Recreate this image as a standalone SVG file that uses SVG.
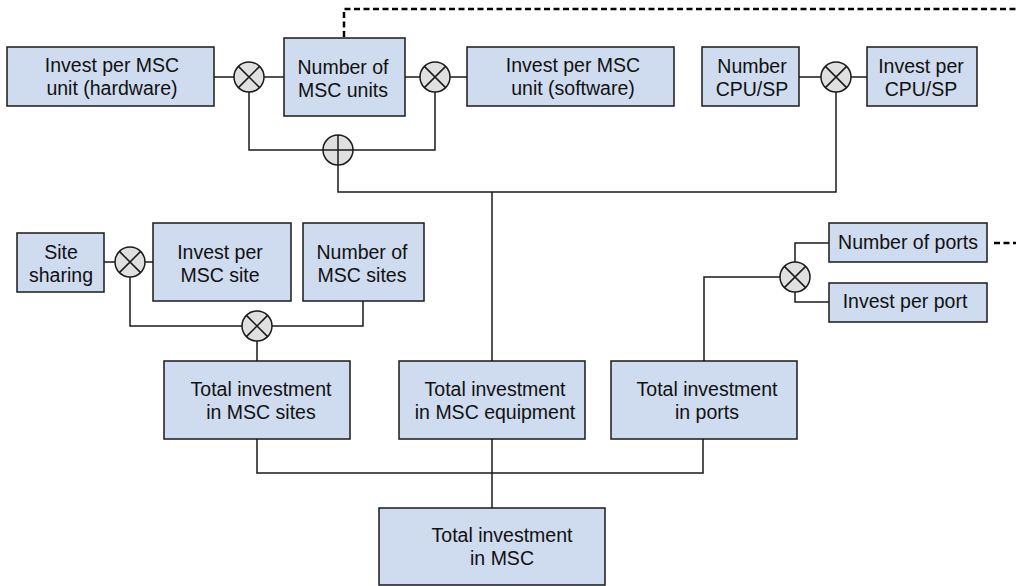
<svg xmlns="http://www.w3.org/2000/svg" width="1016" height="586" viewBox="0 0 1016 586">
  <defs>
    <style>
      .box { fill: #cfdbee; stroke: #1a1a1a; stroke-width: 1.5; }
      .op { fill: #e0e0e0; stroke: #1a1a1a; stroke-width: 1.5; }
      .sym { stroke: #1a1a1a; stroke-width: 1.5; fill: none; }
      .wire { fill: none; stroke: #1a1a1a; stroke-width: 1.5; }
      .dash { fill: none; stroke: #000; stroke-width: 2.5; stroke-dasharray: 6 3.5; }
      text { font-family: "Liberation Sans", Arial, sans-serif; font-size: 19.5px; fill: #111; text-anchor: middle; }
    </style>
    <!-- multiply junction: circle with X, centred at origin -->
    <g id="mul">
      <circle class="op" r="15"/>
      <path class="sym" d="M-10.6,-10.6 L10.6,10.6 M-10.6,10.6 L10.6,-10.6"/>
    </g>
    <!-- sum junction: circle with cross -->
    <g id="add">
      <circle class="op" r="15"/>
      <path class="sym" d="M-15,0 L15,0 M0,-15 L0,15"/>
    </g>
  </defs>
  <rect width="1016" height="586" fill="#fff"/>

  <!-- connectors -->
  <g id="connectors">
    <path class="wire" d="M214,77 H234 M264,77 H284 M405,77 H420 M450,77 H467"/>
    <path class="wire" d="M249,92 V150 H323 M435,92 V150 H353"/>
    <path class="wire" d="M338,165 V192 H836 V92"/>
    <path class="wire" d="M799,77 H821 M851,77 H867"/>
    <path class="wire" d="M492,192 V361"/>
    <path class="wire" d="M104,262 H115 M145,262 H153"/>
    <path class="wire" d="M130,277 V326 H242 M272,326 H363 V301 M257,341 V361"/>
    <path class="wire" d="M795,262 V243 H829 M795,292 V302 H829 M780,277 H704 V361"/>
    <path class="wire" d="M257,439 V473 H703 V439 M492,439 V508"/>
    <path class="dash" d="M344,37 V9 H1016"/>
    <path class="dash" d="M994,243 H1016"/>
  </g>

  <!-- operators -->
  <g id="op-hw"><use href="#mul" x="249" y="77"/></g>
  <g id="op-sw"><use href="#mul" x="435" y="77"/></g>
  <g id="op-units-sum"><use href="#add" x="338" y="150"/></g>
  <g id="op-cpu"><use href="#mul" x="836" y="77"/></g>
  <g id="op-share"><use href="#mul" x="130" y="262"/></g>
  <g id="op-sites"><use href="#mul" x="257" y="326"/></g>
  <g id="op-ports"><use href="#mul" x="795" y="277"/></g>

  <!-- nodes -->
  <g id="invest-hw">
    <rect class="box" x="7" y="47" width="207" height="59"/>
    <text x="112" y="72">Invest per MSC</text>
    <text x="112" y="95">unit (hardware)</text>
  </g>
  <g id="num-units">
    <rect class="box" x="284" y="38" width="121" height="78"/>
    <text x="343" y="74">Number of</text>
    <text x="343" y="97">MSC units</text>
  </g>
  <g id="invest-sw">
    <rect class="box" x="467" y="47" width="207" height="59"/>
    <text x="573" y="72">Invest per MSC</text>
    <text x="573" y="95">unit (software)</text>
  </g>
  <g id="num-cpu">
    <rect class="box" x="702" y="47" width="97" height="59"/>
    <text x="752" y="73">Number</text>
    <text x="752" y="96">CPU/SP</text>
  </g>
  <g id="invest-cpu">
    <rect class="box" x="867" y="47" width="110" height="59"/>
    <text x="921" y="73">Invest per</text>
    <text x="921" y="96">CPU/SP</text>
  </g>
  <g id="site-sharing">
    <rect class="box" x="17" y="233" width="87" height="59"/>
    <text x="61" y="259">Site</text>
    <text x="61" y="282">sharing</text>
  </g>
  <g id="invest-site">
    <rect class="box" x="153" y="223" width="138" height="78"/>
    <text x="220" y="259">Invest per</text>
    <text x="220" y="282">MSC site</text>
  </g>
  <g id="num-sites">
    <rect class="box" x="303" y="223" width="121" height="78"/>
    <text x="362" y="259">Number of</text>
    <text x="362" y="282">MSC sites</text>
  </g>
  <g id="num-ports">
    <rect class="box" x="829" y="223" width="158" height="39"/>
    <text x="908" y="249">Number of ports</text>
  </g>
  <g id="invest-port">
    <rect class="box" x="829" y="283" width="158" height="39"/>
    <text x="905" y="308">Invest per port</text>
  </g>
  <g id="total-sites">
    <rect class="box" x="164" y="361" width="186" height="78"/>
    <text x="261" y="396">Total investment</text>
    <text x="261" y="419">in MSC sites</text>
  </g>
  <g id="total-equipment">
    <rect class="box" x="399" y="361" width="186" height="78"/>
    <text x="495" y="396">Total investment</text>
    <text x="495" y="419">in MSC equipment</text>
  </g>
  <g id="total-ports">
    <rect class="box" x="611" y="361" width="186" height="78"/>
    <text x="707" y="396">Total investment</text>
    <text x="707" y="419">in ports</text>
  </g>
  <g id="total-msc">
    <rect class="box" x="379" y="508" width="226" height="77"/>
    <text x="502" y="542">Total investment</text>
    <text x="502" y="565">in MSC</text>
  </g>
</svg>
